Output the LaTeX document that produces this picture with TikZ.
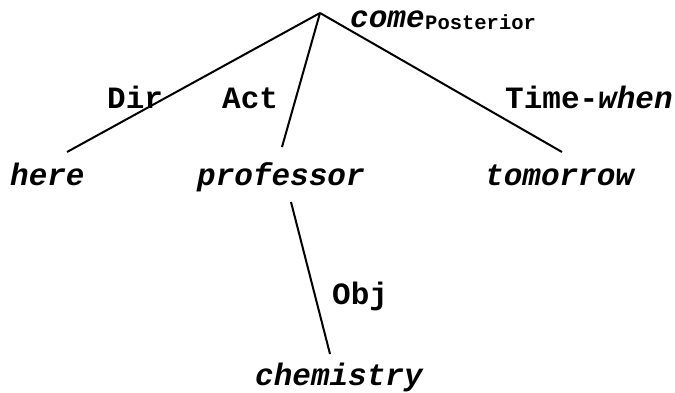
\documentclass[tikz,border=0pt]{standalone}
\usepackage{fontspec}
\setmonofont{Liberation Mono}
\begin{document}
\begin{tikzpicture}[x=1pt,y=-1pt,
  word/.style={anchor=base west,inner sep=0pt,font=\fontsize{31}{31}\selectfont\ttfamily\bfseries\itshape},
  rel/.style={anchor=base west,inner sep=0pt,font=\fontsize{31}{31}\selectfont\ttfamily\bfseries},
  sub/.style={anchor=base west,inner sep=0pt,font=\fontsize{20.5}{20.5}\selectfont\ttfamily\bfseries},
  link/.style={line width=2pt}]
\useasboundingbox (0,0) rectangle (675,392);
\coordinate (root) at (320,13);
\node[word] (come) at (350,27) {come};
\node[sub] (post) at (425,29.5) {Posterior};
\node[word] (here) at (10,185) {here};
\node[word] (prof) at (197,185) {professor};
\node[word] (tom) at (485,185) {tomorrow};
\node[word] (chem) at (255,385) {chemistry};
\node[rel] (dir) at (107,108) {Dir};
\node[rel] (act) at (222,108) {Act};
\node[rel] (time) at (505,108) {Time-\textit{when}};
\node[rel] (obj) at (332,304) {Obj};
\coordinate (hereTop) at (67,152);
\coordinate (profTop) at (282,147);
\coordinate (tomTop) at (562,152);
\coordinate (profBot) at (291,202);
\coordinate (chemTop) at (330,354);
\draw[link] (root) -- (hereTop);
\draw[link] (root) -- (profTop);
\draw[link] (root) -- (tomTop);
\draw[link] (profBot) -- (chemTop);
\end{tikzpicture}
\end{document}
